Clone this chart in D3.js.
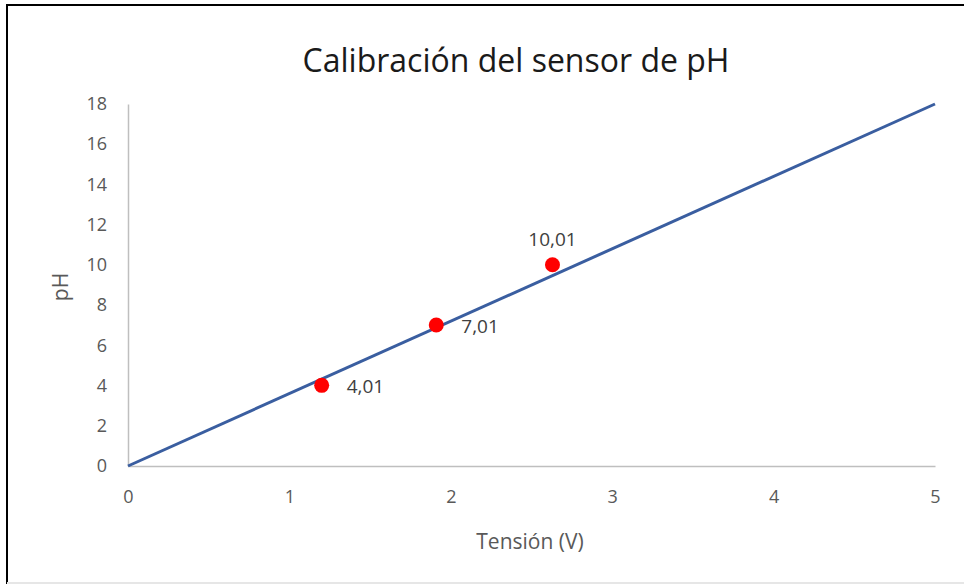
<!DOCTYPE html>
<html>
<head>
<meta charset="utf-8">
<script src="https://cdn.jsdelivr.net/npm/d3@7"></script>
<style>
  body { margin: 0; background: #fff; }
  svg { display: block; font-family: "Open Sans", "Noto Sans", sans-serif; }
</style>
</head>
<body>
<svg id="chart"></svg>
<script>
// measured points (voltage, pH)
const voltages = [1.2, 1.91, 2.63];
const phValues = [4.01, 7.01, 10.01];
const pointLabels = ["4,01", "7,01", "10,01"];
// calibration line
const lineX = [0, 5];
const lineY = [0, 18];
const xTicks = [0, 1, 2, 3, 4, 5];
const yTicks = [0, 2, 4, 6, 8, 10, 12, 14, 16, 18];

var width = 964, height = 585;
var margin = {left: 128, right: 29, top: 104, bottom: 119};

var svg = d3.select("#chart").attr("width", width).attr("height", height);

// frame
svg.append("rect").attr("x", 7).attr("y", 5).attr("width", width).attr("height", 578)
  .attr("fill", "#fff").attr("stroke", "#000").attr("stroke-width", 2);
svg.append("line").attr("x1", 7).attr("x2", width).attr("y1", 583).attr("y2", 583)
  .attr("stroke", "#e6e6e6").attr("stroke-width", 2);

var x = d3.scaleLinear().domain([0, 5]).range([margin.left, width - margin.right]);
var y = d3.scaleLinear().domain([0, 18]).range([height - margin.bottom, margin.top]);

svg.append("text")
  .attr("x", 516).attr("y", 72)
  .attr("text-anchor", "middle")
  .attr("font-size", 32)
  .attr("fill", "#1a1a1a")
  .text("Calibración del sensor de pH");

var xAxis = svg.append("g")
  .attr("transform", "translate(0," + y(0) + ")")
  .call(d3.axisBottom(x).tickValues(xTicks).tickFormat(d3.format("d")).tickSize(0).tickPadding(24));
var yAxis = svg.append("g")
  .attr("transform", "translate(" + x(0) + ",0)")
  .call(d3.axisLeft(y).tickValues(yTicks).tickSize(0).tickPadding(21));

[xAxis, yAxis].forEach(function(a) {
  a.select(".domain").attr("stroke", "#bfbfbf").attr("stroke-width", 1.5);
  a.selectAll("text").attr("font-size", 18).attr("fill", "#595959")
    .attr("font-family", "'Open Sans', sans-serif");
});

svg.append("text")
  .attr("x", 530).attr("y", 549)
  .attr("text-anchor", "middle").attr("font-size", 21).attr("fill", "#595959")
  .text("Tensión (V)");
svg.append("text")
  .attr("transform", "translate(68," + 287 + ") rotate(-90)")
  .attr("text-anchor", "middle").attr("font-size", 21).attr("fill", "#595959")
  .text("pH");

var line = d3.line().x(function(d) { return x(d[0]); }).y(function(d) { return y(d[1]); });
svg.append("path")
  .datum(d3.zip(lineX, lineY))
  .attr("d", line)
  .attr("fill", "none")
  .attr("stroke", "#3a5ea0")
  .attr("stroke-width", 3);

var pts = d3.zip(voltages, phValues, pointLabels);
svg.selectAll("circle.pt")
  .data(pts)
  .enter()
  .append("circle")
  .attr("class", "pt")
  .attr("cx", function(d) { return x(d[0]); })
  .attr("cy", function(d) { return y(d[1]); })
  .attr("r", 7.5)
  .attr("fill", "#ff0000");

svg.selectAll("text.lbl")
  .data(pts)
  .enter()
  .append("text")
  .attr("class", "lbl")
  .attr("x", function(d, i) { return i == 2 ? x(d[0]) : x(d[0]) + 25; })
  .attr("y", function(d, i) { return i == 2 ? y(d[1]) - 19 : y(d[1]) + 8; })
  .attr("text-anchor", function(d, i) { return i == 2 ? "middle" : "start"; })
  .attr("font-size", 19)
  .attr("fill", "#404040")
  .text(function(d) { return d[2]; });
</script>
</body>
</html>
